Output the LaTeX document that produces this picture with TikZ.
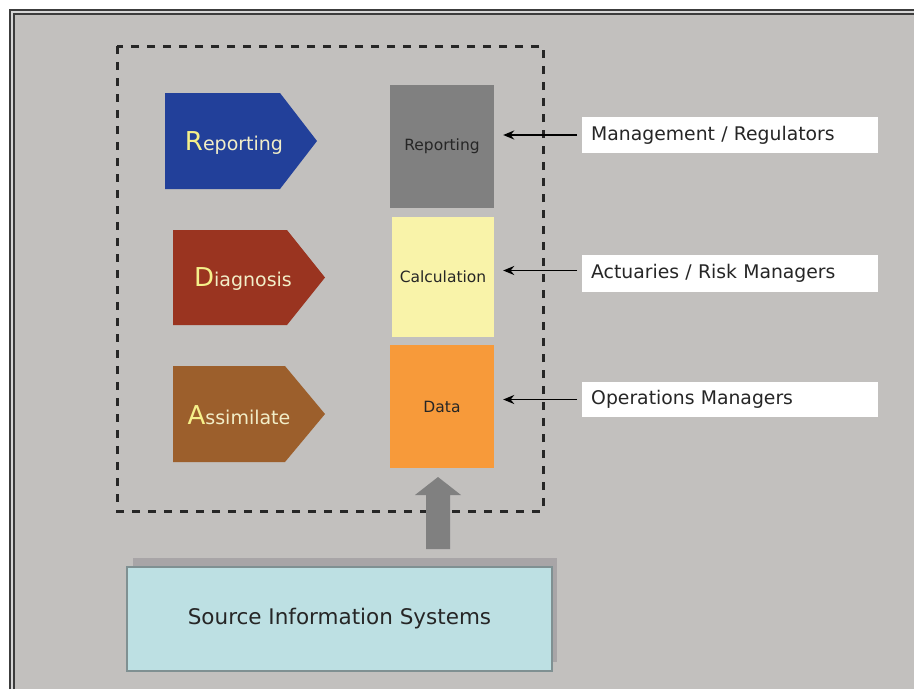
\documentclass[tikz,border=0pt]{standalone}
\usepackage{fontspec}
\setmainfont{DejaVu Sans}
\usetikzlibrary{arrows.meta,calc}
\definecolor{bggray}{HTML}{C2C0BE}
\definecolor{framedark}{HTML}{3C3C3C}
\definecolor{framelight}{HTML}{D6D6D6}
\definecolor{repblue}{HTML}{22409A}
\definecolor{diared}{HTML}{9A3420}
\definecolor{assbrown}{HTML}{9C5F2C}
\definecolor{ylwbig}{HTML}{F5F08A}
\definecolor{ylwtxt}{HTML}{F2EEC8}
\definecolor{boxgray}{HTML}{808080}
\definecolor{boxyellow}{HTML}{F9F3A9}
\definecolor{boxorange}{HTML}{F79A3A}
\definecolor{srcfill}{HTML}{BDE0E3}
\definecolor{srcline}{HTML}{7F9092}
\definecolor{srcshadow}{HTML}{A8A5A7}
\definecolor{arrgray}{HTML}{808080}
\newcommand{\ptxt}[2]{{\fontsize{26}{26}\selectfont\color{ylwbig}#1}{\fontsize{19}{19}\selectfont\color{ylwtxt}#2}}
\begin{document}
\begin{tikzpicture}[x=1pt,y=-1pt,
  colbox/.style={inner sep=0pt, minimum width=104pt, minimum height=123pt, font=\fontsize{15.5}{18}\selectfont, text=black!85},
  lbl/.style={fill=white, anchor=west, inner xsep=9pt, inner ysep=0pt, text width=278pt, align=left, minimum height=36pt, font=\fontsize{18.8}{22}\selectfont, text=black!85},
  ptext/.style={inner sep=0pt},
  conn/.style={draw=black, line width=1.8pt, -{Stealth[length=11pt,width=9pt]}, shorten <=5pt, shorten >=9pt}]
\useasboundingbox (0,0) rectangle (914,689);
\fill[white] (0,0) rectangle (914,689);
\fill[framelight] (9,9) rectangle (914,689);
\draw[framedark, line width=2pt] (10,689) -- (10,10) -- (914,10);
\draw[framedark, line width=2pt] (14,689) -- (14,14) -- (914,14);
\fill[bggray] (15,15) rectangle (914,689);
% dashed frame
\draw[black!85, line width=3pt, dash pattern=on 8pt off 8pt] (117,46) rectangle (543,511);
% pentagons
\fill[repblue] (165,93) -- (280,93) -- (317,141) -- (280,189) -- (165,189) -- cycle;
\node[ptext] (pR) at (234,143) {\ptxt{R}{eporting}};
\fill[diared] (173,230) -- (287,230) -- (325,277.5) -- (287,325) -- (173,325) -- cycle;
\node[ptext] (pD) at (243,279) {\ptxt{D}{iagnosis}};
\fill[assbrown] (173,366) -- (285,366) -- (325,414) -- (285,462) -- (173,462) -- cycle;
\node[ptext] (pA) at (239,415) {\ptxt{A}{ssimilate}};
% column boxes
\node[colbox, fill=boxgray] (rep) at (442,146.5) {Reporting};
\node[colbox, fill=boxyellow, minimum width=102pt, minimum height=120pt] (calc) at (443,277) {Calculation};
\node[colbox, fill=boxorange] (data) at (442,406.5) {Data};
% labels
\node[lbl] (mgmt) at (582,135) {Management / Regulators};
\node[lbl, minimum height=37pt] (act) at (582,273.5) {Actuaries / Risk Managers};
\node[lbl, minimum height=35pt] (ops) at (582,399.5) {Operations Managers};
\draw[conn] (mgmt.west) -- (rep.east |- mgmt.west);
\draw[conn] (act.west) ++(0,-3) coordinate (actw) (actw) -- (calc.east |- actw);
\draw[conn] (ops.west) -- (data.east |- ops.west);
% source
\fill[srcshadow] (133,558) rectangle (557,662);
\node[fill=srcfill, draw=srcline, line width=1.4pt, minimum width=425pt, minimum height=104pt, inner sep=0pt, font=\fontsize{21.5}{24}\selectfont, text=black!85] (src) at (339.5,619) {Source Information Systems};
% thick arrow
\coordinate (abot) at (438,549);
\coordinate (atip) at (438,477);
\fill[arrgray] ($(abot)+(-12,0)$) -- ($(atip)+(-12,18)$) -- ($(atip)+(-23,18)$) -- (atip) -- ($(atip)+(23,18)$) -- ($(atip)+(12,18)$) -- ($(abot)+(12,0)$) -- cycle;
\end{tikzpicture}
\end{document}
